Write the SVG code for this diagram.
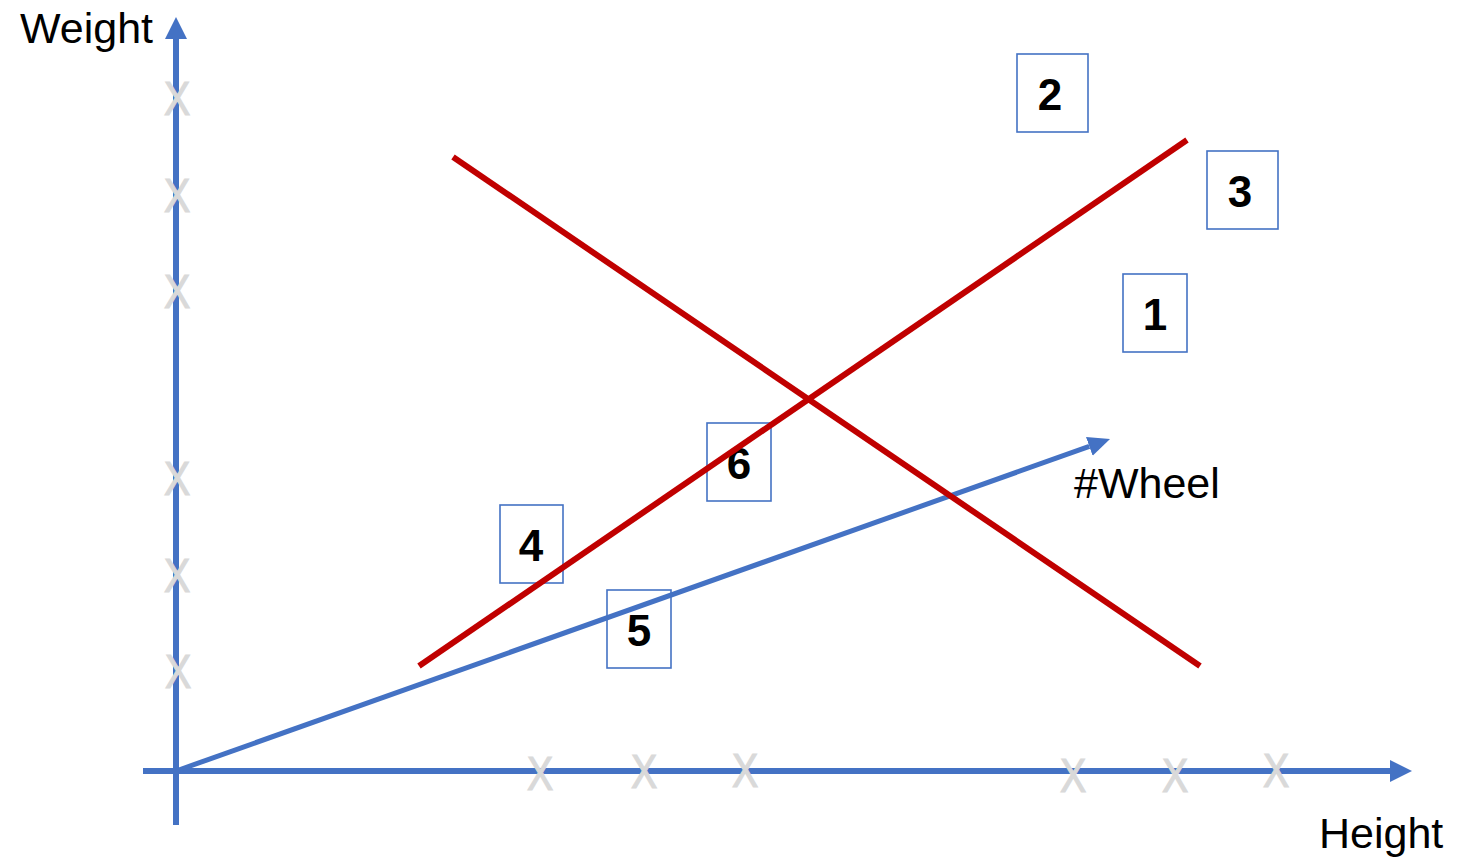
<svg xmlns="http://www.w3.org/2000/svg" xmlns:xlink="http://www.w3.org/1999/xlink" width="1466" height="858" viewBox="0 0 1466 858">
<style>
.axis{stroke:#4472c4;stroke-width:6;fill:none}
.wheel{stroke:#4472c4;stroke-width:5;fill:none}
.red{stroke:#c00000;stroke-width:6;fill:none}
.box{fill:none;stroke:#4472c4;stroke-width:1.6}
.num{font-family:"Liberation Sans",Arial,sans-serif;font-weight:bold;font-size:44px;fill:#000;text-anchor:middle}
.lbl{font-family:"Liberation Sans",Arial,sans-serif;font-size:43px;fill:#000}
.xm{font-family:"Liberation Sans",Arial,sans-serif;font-size:48px;fill:#d9d9d9;stroke:#d9d9d9;stroke-width:1.2;text-anchor:middle}
</style>
<defs>
<marker id="ah" viewBox="0 0 22 22" refX="0" refY="11" markerWidth="22" markerHeight="22" markerUnits="userSpaceOnUse" orient="auto">
<path d="M0,0 L22,11 L0,22 z" fill="#4472c4"/>
</marker>
<marker id="ahs" viewBox="0 0 22 20" refX="0" refY="10" markerWidth="22" markerHeight="20" markerUnits="userSpaceOnUse" orient="auto">
<path d="M0,0 L22,10 L0,20 z" fill="#4472c4"/>
</marker>
<text id="xmark" class="xm" x="0" y="17" transform="scale(0.82,1)">X</text>
</defs>
<rect width="1466" height="858" fill="#fff"/>

<g id="node-1"><rect class="box" x="1123" y="274" width="64" height="78"/><text class="num" x="1155" y="330">1</text></g>
<g id="node-2"><rect class="box" x="1017" y="54" width="71" height="78"/><text class="num" x="1050" y="110">2</text></g>
<g id="node-3"><rect class="box" x="1207" y="151" width="71" height="78"/><text class="num" x="1240" y="207">3</text></g>
<g id="node-4"><rect class="box" x="500" y="505" width="63" height="78"/><text class="num" x="531" y="561">4</text></g>
<g id="node-5"><rect class="box" x="607" y="590" width="64" height="78"/><text class="num" x="639" y="646">5</text></g>
<g id="node-6"><rect class="box" x="707" y="423" width="64" height="78"/><text class="num" x="739" y="479">6</text></g>

<g id="connectors">
<line id="y-axis" class="axis" x1="176" y1="825" x2="176" y2="39" marker-end="url(#ah)"/>
<line id="x-axis" class="axis" x1="143" y1="771" x2="1390" y2="771" marker-end="url(#ah)"/>
<line id="wheel-vector" class="wheel" x1="176" y1="771" x2="1089.3" y2="446.4" marker-end="url(#ahs)"/>
<line id="red-line-1" class="red" x1="453" y1="157" x2="1200" y2="666"/>
<line id="red-line-2" class="red" x1="419" y1="666" x2="1187" y2="140"/>
</g>

<g id="x-marks">
<use xlink:href="#xmark" transform="translate(177,97.5)"/>
<use xlink:href="#xmark" transform="translate(177,195)"/>
<use xlink:href="#xmark" transform="translate(177,291)"/>
<use xlink:href="#xmark" transform="translate(177,478)"/>
<use xlink:href="#xmark" transform="translate(177,575)"/>
<use xlink:href="#xmark" transform="translate(178,671)"/>
<use xlink:href="#xmark" transform="translate(540,773)"/>
<use xlink:href="#xmark" transform="translate(644,771)"/>
<use xlink:href="#xmark" transform="translate(745,770)"/>
<use xlink:href="#xmark" transform="translate(1073,775)"/>
<use xlink:href="#xmark" transform="translate(1175,775)"/>
<use xlink:href="#xmark" transform="translate(1276,770)"/>
</g>

<g id="labels">
<text id="label-weight" class="lbl" x="20" y="43">Weight</text>
<text id="label-height" class="lbl" x="1319" y="848">Height</text>
<text id="label-wheel" class="lbl" x="1074" y="498">#Wheel</text>
</g>
</svg>
